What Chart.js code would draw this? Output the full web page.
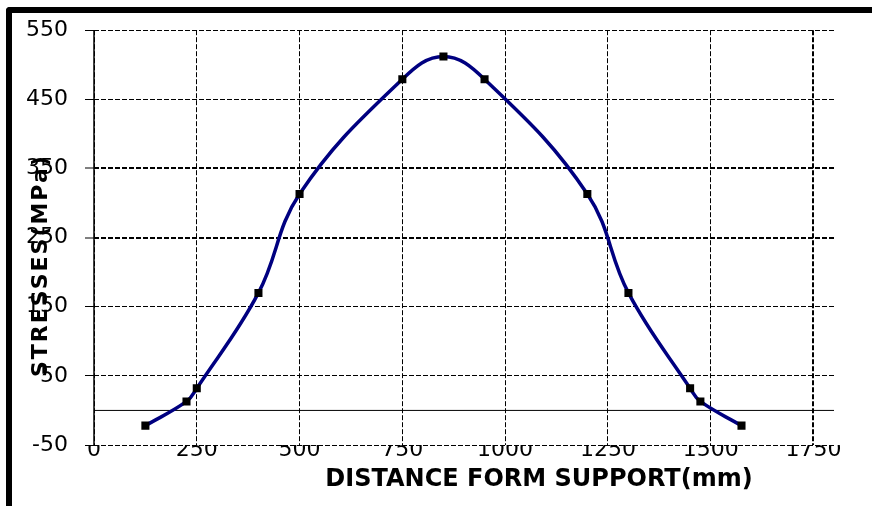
<!DOCTYPE html>
<html><head><meta charset="utf-8">
<script src="https://cdn.jsdelivr.net/npm/chart.js@4"></script>
<style>
html,body{margin:0;padding:0;background:#fff;}
#wrap{position:relative;width:872px;height:506px;overflow:hidden;}
#frame{position:absolute;left:6px;top:7px;right:-10px;bottom:-10px;border-left:6px solid #000;border-top:6px solid #000;border-top-left-radius:4px;pointer-events:none;}
canvas{position:absolute;left:0;top:0;}
</style></head><body>
<div id="wrap"><canvas id="c" width="872" height="506"></canvas><div id="frame"></div></div>
<script>
// ---- data ----
const distances = [125, 225, 250, 400, 500, 750, 850, 950, 1200, 1300, 1450, 1475, 1575];
const stresses  = [-22, 13, 32, 170, 313, 479, 512, 479, 313, 170, 32, 13, -22];
const xTicks = [0, 250, 500, 750, 1000, 1250, 1500, 1750];
const yTicks = [-50, 50, 150, 250, 350, 450, 550];
const zeroLineX = [0, 1800];
const yAxisLineY = [-50, 550];
const xTitle = 'DISTANCE FORM SUPPORT(mm)';
const yTitle = 'STRESSES(MPa)';

const titleNudge = {
  id: 'titleNudge',
  beforeDraw(chart) {
    const cfg = {x: {dx: 75, dy: 0, ls: '0px'}, y: {dx: 0, dy: 28, ls: '2px'}};
    for (const id of ['x', 'y']) {
      const s = chart.scales[id];
      if (!s || s.__nudged) continue;
      const orig = s.drawTitle;
      const c = cfg[id];
      s.drawTitle = function (...a) {
        const ctx = this.ctx;
        ctx.save();
        ctx.translate(c.dx, c.dy);
        ctx.letterSpacing = c.ls;
        orig.apply(this, a);
        ctx.restore();
      };
      s.__nudged = true;
    }
  }
};

new Chart(document.getElementById('c'), {
  type: 'line',
  data: {
    datasets: [
      {
        data: distances.map((d, i) => ({x: d, y: stresses[i]})),
        borderColor: '#000080',
        borderWidth: 3.5,
        tension: 0.4,
        pointStyle: 'rect',
        pointRadius: 5.7,
        pointBackgroundColor: '#000',
        pointBorderWidth: 0,
        fill: false,
        order: 0
      },
      {
        data: zeroLineX.map(x => ({x: x, y: 0})),
        borderColor: '#000',
        borderWidth: 1,
        pointRadius: 0,
        tension: 0,
        fill: false,
        order: 1
      },
      {
        data: yAxisLineY.map(y => ({x: 0, y: y})),
        borderColor: '#000',
        borderWidth: 1.5,
        pointRadius: 0,
        tension: 0,
        fill: false,
        clip: false,
        order: 2
      }
    ]
  },
  options: {
    responsive: false,
    animation: false,
    layout: {padding: {top: 28, right: 38, bottom: 0, left: 0}},
    plugins: {legend: {display: false}, tooltip: {enabled: false}},
    scales: {
      x: {
        type: 'linear',
        min: 0, max: 1800,
        afterBuildTicks: s => { s.ticks = xTicks.map(v => ({value: v})); },
        afterFit: s => { s.height = 61; },
        border: {display: false, dash: [5, 2]},
        grid: {
          color: '#000',
          lineWidth: c => (c.tick && c.tick.value === 1750) ? 2 : 1,
          borderDash: [5, 2],
          drawTicks: false
        },
        ticks: {
          color: '#000',
          padding: -8,
          maxRotation: 0,
          autoSkip: false,
          callback: v => String(v),
          font: {family: 'DejaVu Sans', size: 22}
        },
        title: {
          display: true,
          text: xTitle,
          color: '#000',
          padding: {top: 0, bottom: 11.6},
          font: {family: 'DejaVu Sans', size: 24, weight: 'bold'}
        }
      },
      y: {
        type: 'linear',
        min: -50, max: 550,
        afterBuildTicks: s => { s.ticks = yTicks.map(v => ({value: v})); },
        afterFit: s => { s.width = 94; },
        border: {display: false, dash: [5, 2]},
        grid: {
          color: '#000',
          lineWidth: c => (c.tick && (c.tick.value === 250 || c.tick.value === 350)) ? 2 : 1,
          borderDash: [5, 2],
          drawTicks: true,
          tickLength: 9,
          tickColor: '#000',
          tickWidth: 1,
          tickBorderDash: []
        },
        ticks: {
          color: '#000',
          padding: 17,
          autoSkip: false,
          callback: v => String(v),
          font: {family: 'DejaVu Sans', size: 22}
        },
        title: {
          display: true,
          text: yTitle,
          color: '#000',
          padding: {top: 28, bottom: 0},
          font: {family: 'DejaVu Sans', size: 22, weight: 'bold'}
        }
      }
    }
  },
  plugins: [titleNudge]
});
</script>
</body></html>
